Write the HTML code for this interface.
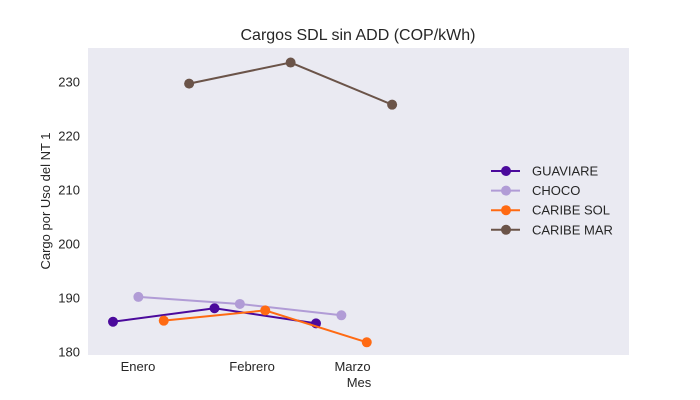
<!DOCTYPE html>
<html><head><meta charset="utf-8"><style>
body{margin:0;background:#fff;}
svg{display:block;font-family:"Liberation Sans",sans-serif;}
</style></head><body>
<svg id="chart" width="700" height="400">
<rect x="0" y="0" width="700" height="400" fill="#fff"/>
<rect x="88" y="48" width="541" height="307" fill="#eaeaf2"/>
<text x="358" y="40" text-anchor="middle" font-size="16" fill="#262626">Cargos SDL sin ADD (COP/kWh)</text>
<text x="359" y="387" text-anchor="middle" font-size="13" fill="#262626">Mes</text>
<text transform="translate(50,201) rotate(-90)" text-anchor="middle" font-size="13" fill="#262626">Cargo por Uso del NT 1</text>
<g id="marks"></g>
</svg>
<script>
const categories = ["Enero","Febrero","Marzo"];
const tickPos = [0.246, 1.37, 2.36];
const seriesNames = ["GUAVIARE","CHOCO","CARIBE SOL","CARIBE MAR"];
const guaviare = [185.6, 188.1, 185.3];
const choco = [190.2, 188.9, 186.8];
const caribeSol = [185.8, 187.7, 181.8];
const caribeMar = [229.7, 233.6, 225.8];
const yTicks = [180,190,200,210,220,230];
const seriesData = [guaviare, choco, caribeSol, caribeMar];
const colors = ["#4b0a9c","#b19cd6","#ff6a13","#6b5449"];
const NS="http://www.w3.org/2000/svg";
const g=document.getElementById('marks');
function x(u){return 113+101.5*u;}
function y(v){return 352-(v-180)*5.4;}
function mk(t,a){const e=document.createElementNS(NS,t);for(const k in a)e.setAttribute(k,a[k]);g.appendChild(e);return e;}
yTicks.forEach(v=>{
  const t=mk('text',{x:80,y:y(v)+4.5,'text-anchor':'end','font-size':13,fill:'#262626'});
  t.textContent=v;
  
  
});
categories.forEach((c,i)=>{
  const t=mk('text',{x:x(tickPos[i]),y:371,'text-anchor':'middle','font-size':13,fill:'#262626'});
  t.textContent=c;
  
  
});
seriesData.forEach((vals,j)=>{
  const pts=vals.map((v,i)=>[x(i+0.25*j),y(v)]);
  const l=mk('polyline',{points:pts.map(p=>p.join(',')).join(' '),fill:'none',stroke:colors[j],'stroke-width':2});
  
  
  pts.forEach((p,i)=>{
    const c=mk('circle',{cx:p[0],cy:p[1],r:5,fill:colors[j]});
    
    
  });
  const ly=171+19.6*j;
  const ll=mk('line',{x1:491,x2:520,y1:ly,y2:ly,stroke:colors[j],'stroke-width':2});
  
  
  const lc=mk('circle',{cx:506,cy:ly,r:5,fill:colors[j]});
  
  
  const lt=mk('text',{x:532,y:ly+4.5,'font-size':13,fill:'#262626'});
  lt.textContent=seriesNames[j];
  
  
});
</script>
</body></html>
